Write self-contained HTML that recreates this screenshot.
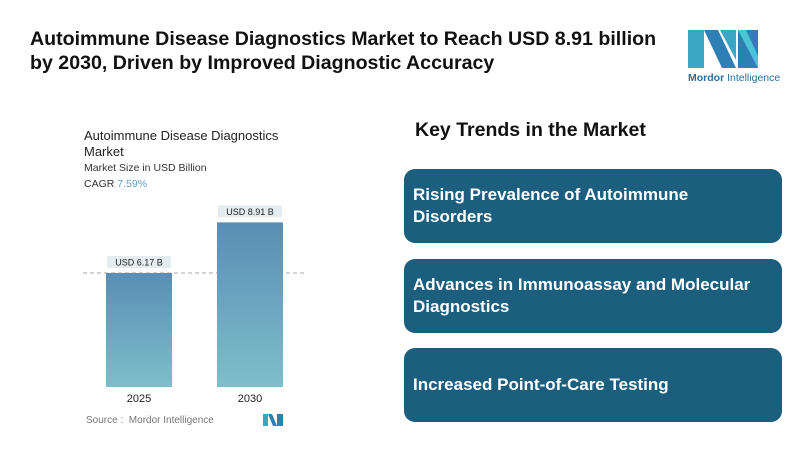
<!DOCTYPE html>
<html><head><meta charset="utf-8"><style>
body{margin:0;width:800px;height:449px;background:#fff;font-family:"Liberation Sans",sans-serif;position:relative;overflow:hidden}
.a{position:absolute}
.box{position:absolute;left:404px;width:378px;height:74px;background:#1b5e7e;border-radius:11px;color:#fff;font-weight:bold;font-size:17px;line-height:22px;display:flex;align-items:center;padding-left:9px;box-sizing:border-box}
</style></head><body>
<div class="a" style="left:30px;top:27px;font-size:19.6px;font-weight:bold;line-height:24px;color:#111">Autoimmune Disease Diagnostics Market to Reach USD 8.91 billion<br>by 2030, Driven by Improved Diagnostic Accuracy</div>
<svg class="a" style="left:686px;top:28px" width="80" height="44">
<polygon points="2,2 18,2 18,40 2,40" fill="#3aa6c4"/>
<polygon points="18,2 32,2 50,40 36,40" fill="#2e7fb5"/>
<polygon points="34,2 50,2 50,32" fill="#3aa6c4"/>
<polygon points="52,2 72,2 72,40 52,40" fill="#2e7fb5"/>
<polygon points="52,2 60,2 72,28 72,40" fill="#4fc3d6"/>
</svg>
<div class="a" style="left:688px;top:72px;font-size:10.5px;color:#2a6f9a"><b>Mordor</b> Intelligence</div>
<div class="a" style="left:84px;top:128px;font-size:13px;line-height:16px;color:#222">Autoimmune Disease Diagnostics<br>Market</div>
<div class="a" style="left:84px;top:162px;font-size:10.5px;color:#333">Market Size in USD Billion</div>
<div class="a" style="left:84px;top:178px;font-size:10.5px;color:#333">CAGR <span style="color:#5aa0c8">7.59%</span></div>
<svg class="a" id="chart" style="left:0;top:0" width="400" height="449">
<defs><linearGradient id="g" x1="0" y1="0" x2="0" y2="1"><stop offset="0" stop-color="#5a8db5"/><stop offset="1" stop-color="#7cbfca"/></linearGradient></defs>
</svg>
<div class="a" style="left:86px;top:415px;font-size:10px;color:#777">Source :&nbsp; Mordor Intelligence</div>
<svg class="a" style="left:263px;top:414px" width="20" height="12"><polygon points="0,0 5,0 5,12 0,12" fill="#3aa6c4"/><polygon points="5,0 9,0 14,12 10,12" fill="#2e7fb5"/><polygon points="14,0 20,0 20,12 14,12" fill="#2e7fb5"/></svg>
<div class="a" style="left:415px;top:119px;font-size:19.5px;font-weight:bold;color:#111">Key Trends in the Market</div>
<div class="box" style="top:169px">Rising Prevalence of Autoimmune<br>Disorders</div>
<div class="box" style="top:259px">Advances in Immunoassay and Molecular<br>Diagnostics</div>
<div class="box" style="top:348px">Increased Point-of-Care Testing</div>
<script>
const categories=["2025","2030"];
const values=[6.17,8.91];
const labels=["USD 6.17 B","USD 8.91 B"];
const svg=document.getElementById('chart');const NS='http://www.w3.org/2000/svg';
const base=387,scale=114/6.17;
const xs=c=>106+categories.indexOf(c)*111;
const y=v=>base-v*scale;
function mk(t,a){const e=document.createElementNS(NS,t);for(const k in a)e.setAttribute(k,a[k]);svg.appendChild(e);return e;}
const dl=mk('line',{x1:83,x2:307,y1:y(values[0]),y2:y(values[0]),stroke:'#aaa','stroke-dasharray':'4,3'});


categories.forEach((c,i)=>{
const b=mk('rect',{x:xs(c),y:y(values[i]),width:66,height:base-y(values[i]),fill:'url(#g)'});


const lb=mk('rect',{x:xs(c)+1,y:y(values[i])-17,width:64,height:12,rx:2,fill:'#e3ecef'});


const t=mk('text',{x:xs(c)+33,y:y(values[i])-7.5,'text-anchor':'middle','font-size':9,fill:'#222'});t.textContent=labels[i];


const xl=mk('text',{x:xs(c)+33,y:402,'text-anchor':'middle','font-size':11,fill:'#222'});xl.textContent=c;


});
</script>
</body></html>
